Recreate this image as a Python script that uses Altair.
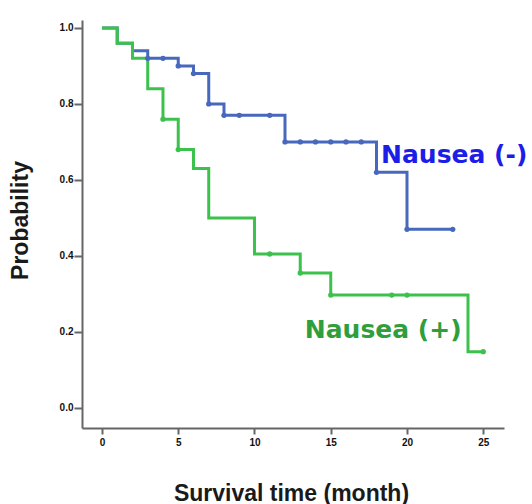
import altair as alt
import pandas as pd

# Nausea (-) Kaplan-Meier steps
neg_times = [0, 1, 2, 3, 5, 6, 7, 8, 12, 18, 20, 23]
neg_surv = [1.0, 0.96, 0.94, 0.92, 0.90, 0.88, 0.80, 0.77, 0.70, 0.62, 0.47, 0.47]
neg_cens_t = [3, 4, 5, 6, 7, 8, 9, 11, 12, 13, 14, 15, 16, 17, 18, 20, 23]
neg_cens_s = [0.92, 0.92, 0.90, 0.88, 0.80, 0.77, 0.77, 0.77, 0.70, 0.70, 0.70, 0.70, 0.70, 0.70, 0.62, 0.47, 0.47]

# Nausea (+) Kaplan-Meier steps
pos_times = [0, 1, 2, 3, 4, 5, 6, 7, 10, 13, 15, 24, 25]
pos_surv = [1.0, 0.96, 0.92, 0.84, 0.76, 0.68, 0.63, 0.50, 0.405, 0.355, 0.297, 0.148, 0.148]
pos_cens_t = [4, 5, 11, 13, 15, 19, 20, 25]
pos_cens_s = [0.76, 0.68, 0.405, 0.355, 0.297, 0.297, 0.297, 0.148]

groups = ["Nausea (-)", "Nausea (+)"]
line_colors = ["#4768bd", "#3cc24c"]
text_colors = ["#1d1de8", "#2f9e3c"]
label_t = [18.3, 13.3]
label_s = [0.666, 0.205]

steps = pd.DataFrame({
    "t": neg_times + pos_times,
    "s": neg_surv + pos_surv,
    "g": [groups[0]] * len(neg_times) + [groups[1]] * len(pos_times),
    "o": list(range(len(neg_times))) + list(range(len(pos_times))),
})
cens = pd.DataFrame({
    "t": neg_cens_t + pos_cens_t,
    "s": neg_cens_s + pos_cens_s,
    "g": [groups[0]] * len(neg_cens_t) + [groups[1]] * len(pos_cens_t),
})
labels = pd.DataFrame({"t": label_t, "s": label_s, "g": groups, "c": text_colors})

xs = alt.Scale(domain=[-1.31, 26.36], nice=False, zero=False)
ys = alt.Scale(domain=[-0.053, 1.021], nice=False, zero=False)
cs = alt.Scale(domain=groups, range=line_colors)

x_enc = alt.X("t:Q", scale=xs, axis=alt.Axis(
    title="Survival time (month)", values=[0, 5, 10, 15, 20, 25], format="d",
    grid=False, domainColor="#666", domainWidth=2, tickColor="#666", tickWidth=2,
    tickSize=6, labelFont="Liberation Sans", labelFontWeight="bold", labelFontSize=10,
    labelColor="#111", labelPadding=3,
    titleFont="Liberation Sans", titleFontWeight="bold", titleFontSize=23, titleColor="#1a1a1a",
    titleX=209, titleY=72, titleAlign="center", titleBaseline="alphabetic"))
y_enc = alt.Y("s:Q", scale=ys, axis=alt.Axis(
    title="Probability", values=[0, 0.2, 0.4, 0.6, 0.8, 1.0], format=".1f",
    grid=False, domainColor="#666", domainWidth=2, tickColor="#666", tickWidth=2,
    tickSize=8, labelFont="Liberation Sans", labelFontWeight="bold", labelFontSize=10,
    labelColor="#111", labelPadding=1,
    titleFont="Liberation Sans", titleFontWeight="bold", titleFontSize=23, titleColor="#1a1a1a",
    titleX=-55, titleY=200, titleAlign="center", titleBaseline="alphabetic", titleAngle=-90))

lines = alt.Chart(steps).mark_line(interpolate="step-after", strokeWidth=3).encode(
    x=x_enc, y=y_enc, order="o:Q",
    color=alt.Color("g:N", scale=cs, legend=None),
    detail="g:N",
)
dots = alt.Chart(cens).mark_circle(size=28, opacity=1).encode(
    x="t:Q", y="s:Q", color=alt.Color("g:N", scale=cs, legend=None),
)
texts = alt.Chart(labels).mark_text(
    align="left", baseline="middle", font="DejaVu Sans", fontWeight="bold", fontSize=25
).encode(x="t:Q", y="s:Q", text="g:N", color=alt.Color("c:N", scale=None))

chart = alt.layer(lines, dots, texts).properties(
    width=422, height=408,
    autosize=alt.AutoSizeParams(type="none"),
    padding={"left": 82, "top": 20, "right": 28, "bottom": 76},
    background="white",
).configure_view(stroke=None)

chart.save("out.html", embed_options={"renderer": "svg", "actions": False})
